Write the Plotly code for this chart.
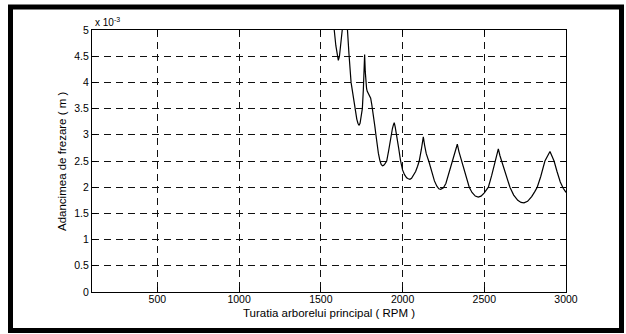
import plotly.graph_objects as go

# Spindle speed (RPM)
rpm = [1560, 1575, 1582, 1592, 1600, 1607, 1614, 1622, 1631, 1640, 1648,
       1655, 1662, 1672, 1685, 1697, 1709, 1720, 1727, 1733, 1740, 1747,
       1754, 1760, 1764, 1768, 1772, 1775, 1780, 1784, 1792, 1800, 1805,
       1812, 1818, 1825, 1831, 1837, 1845, 1852, 1862, 1870, 1878, 1885,
       1893, 1903, 1915, 1922, 1929, 1938, 1944, 1949, 1955, 1964, 1976,
       1988, 2000, 2012, 2025, 2035, 2045, 2055, 2068, 2080, 2092, 2102,
       2115, 2127, 2135, 2145, 2162, 2180, 2195, 2210, 2222, 2233, 2250,
       2265, 2282, 2300, 2318, 2335, 2345, 2362, 2385, 2408, 2425, 2445,
       2463, 2480, 2500, 2525, 2545, 2566, 2586, 2596, 2612, 2635, 2657,
       2680, 2705, 2725, 2743, 2765, 2790, 2810, 2824, 2845, 2871, 2902,
       2915, 2927, 2945, 2965, 2983, 3000]

# Depth of cut (x 10^-3 m)
depth = [6.2, 5.35, 5.0, 4.7, 4.5, 4.42, 4.5, 4.72, 5.0, 5.5, 5.8,
         5.4, 5.0, 4.55, 4.0, 3.73, 3.5, 3.3, 3.22, 3.18, 3.22, 3.33,
         3.5, 3.85, 4.2, 4.53, 4.2, 3.99, 3.88, 3.83, 3.77, 3.73, 3.70,
         3.57, 3.46, 3.3, 3.15, 3.0, 2.8, 2.65, 2.5, 2.43, 2.41, 2.42,
         2.45, 2.5, 2.7, 2.85, 3.0, 3.12, 3.19, 3.23, 3.15, 3.0, 2.75,
         2.5, 2.33, 2.24, 2.18, 2.16, 2.15, 2.17, 2.23, 2.3, 2.4, 2.5,
         2.72, 2.96, 2.8, 2.64, 2.48, 2.28, 2.12, 2.02, 1.97, 1.96, 1.99,
         2.07, 2.25, 2.47, 2.65, 2.82, 2.68, 2.5, 2.22, 2.0, 1.9, 1.83,
         1.81, 1.83, 1.89, 2.0, 2.22, 2.48, 2.73, 2.6, 2.45, 2.2, 2.0,
         1.85, 1.75, 1.71, 1.70, 1.73, 1.82, 1.92, 2.0, 2.2, 2.5, 2.68,
         2.6, 2.5, 2.3, 2.1, 1.98, 1.9]

x_ticks = [500, 1000, 1500, 2000, 2500, 3000]
y_ticks = [0, 0.5, 1, 1.5, 2, 2.5, 3, 3.5, 4, 4.5, 5]
y_tick_labels = ["0", "0.5", "1", "1.5", "2", "2.5", "3", "3.5", "4", "4.5", "5"]

FONT = "Liberation Sans, Arial, sans-serif"
W, H = 626, 334
ML, MR, MT, MB = 92, 60, 30, 42
PW, PH = W - ML - MR, H - MT - MB


def px_x(p):
    return (p - ML) / PW


def px_y(p):
    return (H - MB - p) / PH


fig = go.Figure()
fig.add_trace(go.Scatter(x=rpm, y=depth, mode="lines",
                         line=dict(color="black", width=1.2),
                         hoverinfo="skip", showlegend=False))

axis_common = dict(showline=True, linecolor="black", linewidth=1, mirror="ticks",
                   ticks="inside", ticklen=5, tickcolor="black",
                   showgrid=True, gridcolor="#111111", gridwidth=1,
                   griddash="7px,5px", zeroline=False,
                   tickfont=dict(family=FONT, size=10.5, color="black"))

fig.update_xaxes(range=[100, 3000], tickvals=x_ticks,
                 ticktext=[str(v) for v in x_ticks], ticklabelstandoff=-3,
                 **axis_common)
fig.update_yaxes(range=[0, 5], tickvals=y_ticks, ticktext=y_tick_labels,
                 **axis_common)

fig.update_layout(
    width=W, height=H,
    margin=dict(l=ML, r=MR, t=MT, b=MB, pad=0),
    paper_bgcolor="white", plot_bgcolor="white",
    font=dict(family=FONT, color="black"),
    shapes=[dict(type="rect", xref="paper", yref="paper",
                 x0=px_x(10.5), x1=px_x(621.5), y0=px_y(330.5), y1=px_y(7),
                 line=dict(color="black", width=5), layer="above")],
    annotations=[
        dict(text="x 10<sup>-3</sup>", xref="paper", yref="paper",
             x=px_x(93), y=px_y(30), xanchor="left", yanchor="bottom",
             showarrow=False, font=dict(family=FONT, size=10)),
        dict(text="Turatia arborelui principal ( RPM )", xref="paper", yref="paper",
             x=0.5, y=px_y(313), xanchor="center", yanchor="middle",
             showarrow=False, font=dict(family=FONT, size=11.5)),
        dict(text="Adancimea de frezare ( m )", xref="paper", yref="paper",
             x=px_x(62), y=0.5, xanchor="center", yanchor="middle", textangle=-90,
             showarrow=False, font=dict(family=FONT, size=11.5)),
    ],
)

fig.write_html("out.html")
